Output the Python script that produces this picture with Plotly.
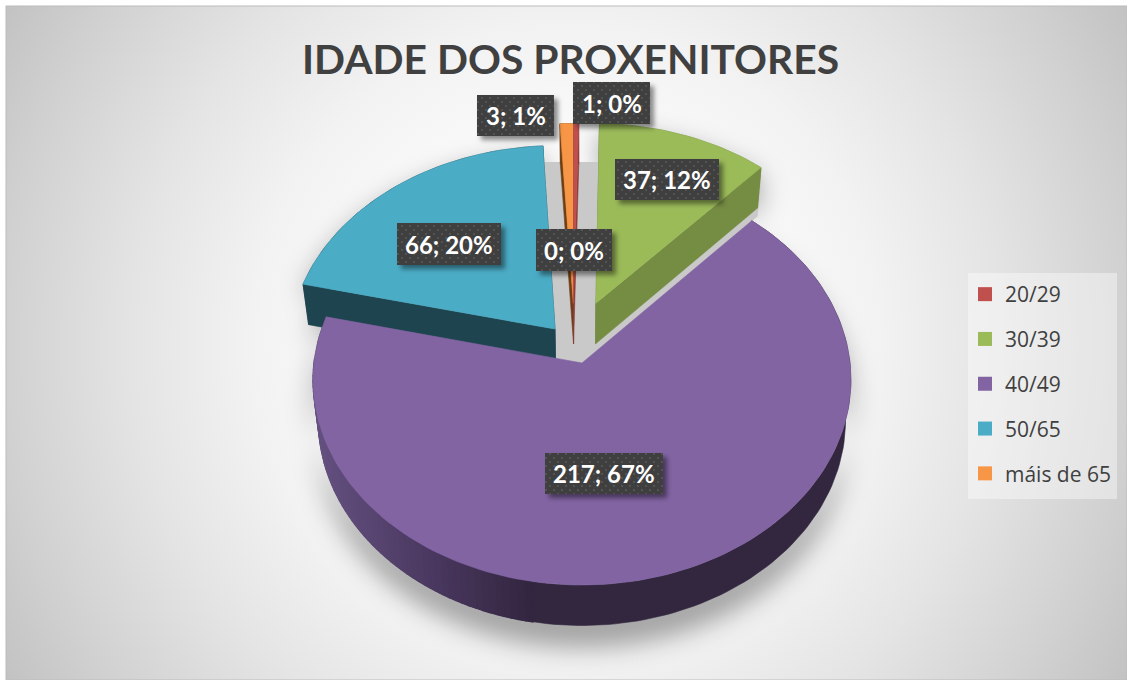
import base64, math
import plotly.graph_objects as go

# ---- data -------------------------------------------------------------
categories = ["20/29", "30/39", "40/49", "50/65", "máis de 65"]
values = [1, 37, 217, 66, 3]
value_labels = ["1; 0%", "37; 12%", "217; 67%", "66; 20%", "3; 1%"]
empty_label = "0; 0%"          # the category with no slice and no legend key

# ---- styles -----------------------------------------------------------
W, H = 1127, 680
FONT = "Lato"
LEGEND_FONT = "Open Sans"
top_colors = ["#c0504d", "#9bbb59", "#8264a3", "#4bacc6", "#f79646"]
wall_colors = ["#8c3a38", "#758c43", "#33263f", "#1e444f", "#6e3f14"]
explode_u = [-0.033, 0.053, 0.0, -0.102, -0.033]
explode_v = [0.30, 0.30, 0.0, 0.169, 0.30]
# label box (left, top, right, bottom), px
label_boxes = [(573, 82, 650, 124), (615, 159, 719, 200), (545, 453, 663, 494),
               (397, 223, 501, 265), (477, 95, 554, 136)]
empty_box = (536, 229, 612, 271)

CX, CY, RX, RY, K = 582, 363, 268, 203.8, 0.082
DEPTH, WALL_SCALE = 40.5, 0.98


def project(u, v):
    s = 1 + K * v
    return CX + RX * u / s, CY - RY * v / s


def wall(p):
    return CX + (p[0] - CX) * WALL_SCALE, p[1] + DEPTH


def arc(a0, a1, du, dv):
    n = max(3, int((a1 - a0) / 1.5))
    pts = []
    for i in range(n + 1):
        a = math.radians(a0 + (a1 - a0) * i / n)
        pts.append(project(du + math.sin(a), dv + math.cos(a)))
    return pts


def poly(fig, pts, color, stroke=0.6):
    xs = [p[0] for p in pts] + [pts[0][0]]
    ys = [p[1] for p in pts] + [pts[0][1]]
    fig.add_trace(go.Scatter(x=xs, y=ys, mode="lines", fill="toself", fillcolor=color,
                             line=dict(color=color, width=stroke), hoverinfo="skip",
                             showlegend=False))


def mix(c0, c1, t):
    a = [int(c0[i:i + 2], 16) for i in (1, 3, 5)]
    b = [int(c1[i:i + 2], 16) for i in (1, 3, 5)]
    return "#%02x%02x%02x" % tuple(round(x + (y - x) * t) for x, y in zip(a, b))


def purple_wall(x):
    if x < 430:
        return mix("#64507f", "#4a3860", max(0, (x - 317) / 113))
    return mix("#4a3860", "#33263f", (x - 430) / 100)


# slice angles come from the values, clockwise from 12 o'clock
total = sum(values)
angles = [0]
for v in values:
    angles.append(angles[-1] + v / total * 360)

slices = []
for i in range(len(values)):
    du, dv = explode_u[i], explode_v[i]
    a_pts = arc(angles[i], angles[i + 1], du, dv)
    slices.append((a_pts, project(du, dv)))


def path_d(pts):
    return "M" + " L".join(f"{x:.1f},{y:.1f}" for x, y in pts) + " Z"


# ---- background picture: gradient and soft shadows -----------------------
shadow_paths = ""
for i in (1, 2, 3):
    a_pts, apex = slices[i]
    body = a_pts + [wall(p) for p in reversed(a_pts)]
    dy = 22 if i == 2 else 10
    shadow_paths += f'<path transform="translate(0,{dy})" d="{path_d(body + [apex])}" fill="#000" fill-opacity="0.34"/>'

bg_svg = f'''<svg xmlns="http://www.w3.org/2000/svg" width="{W}" height="{H}" viewBox="0 0 {W} {H}">
<defs>
<radialGradient id="g" gradientUnits="userSpaceOnUse" cx="0" cy="0" r="1"
 gradientTransform="translate(566 343) scale(790 800)">
<stop offset="0" stop-color="#ffffff"/><stop offset="0.2" stop-color="#fdfdfd"/>
<stop offset="0.4" stop-color="#f2f2f2"/><stop offset="0.55" stop-color="#e4e4e4"/>
<stop offset="0.72" stop-color="#d0d0d0"/><stop offset="0.82" stop-color="#c3c3c3"/>
<stop offset="1" stop-color="#bbbbbb"/></radialGradient>
<filter id="b" x="-20%" y="-20%" width="140%" height="140%"><feGaussianBlur stdDeviation="13"/></filter>
<clipPath id="c"><rect x="6" y="7" width="{W - 6}" height="{H - 7}"/></clipPath>
</defs>
<rect width="{W}" height="{H}" fill="#ffffff"/>
<rect x="6" y="6" width="{W - 6}" height="{H - 6}" fill="url(#g)" stroke="#bcbcbc" stroke-width="1"/>
<g filter="url(#b)" clip-path="url(#c)">{shadow_paths}</g>
</svg>'''

# ---- label boxes with their dotted fill and shadow -----------------------
all_boxes = label_boxes + [empty_box]
box_marks = ""
for (l, t, r, b) in all_boxes:
    box_marks += (f'<rect x="{l + 4}" y="{t + 4}" width="{r - l}" height="{b - t}" fill="#000" '
                  f'fill-opacity="0.45" filter="url(#s)"/>')
    box_marks += f'<rect x="{l}" y="{t}" width="{r - l}" height="{b - t}" fill="url(#d)"/>'
box_svg = f'''<svg xmlns="http://www.w3.org/2000/svg" width="{W}" height="{H}" viewBox="0 0 {W} {H}">
<defs>
<filter id="s" x="-20%" y="-30%" width="140%" height="160%"><feGaussianBlur stdDeviation="2.5"/></filter>
<pattern id="d" width="8" height="8" patternUnits="userSpaceOnUse">
<rect width="8" height="8" fill="#3f3f3f"/>
<circle cx="2" cy="2" r="0.9" fill="#5c5c5c"/><circle cx="6" cy="6" r="0.9" fill="#5c5c5c"/>
</pattern></defs>{box_marks}</svg>'''


def data_uri(svg):
    return "data:image/svg+xml;base64," + base64.b64encode(svg.encode()).decode()


# ---- figure --------------------------------------------------------------
fig = go.Figure()

# back slivers first, then teal, green and the large front slice
for i in (4, 0, 3, 1, 2):
    a_pts, apex = slices[i]
    color, wcolor = top_colors[i], wall_colors[i]
    if i == 2:
        poly(fig, a_pts + [wall(p) for p in reversed(a_pts)], wcolor)
        for p, q in zip(a_pts[:-1], a_pts[1:]):
            mid = (p[0] + q[0]) / 2
            if mid < 530 and p[1] > CY:
                poly(fig, [p, q, wall(q), wall(p)], purple_wall(mid), stroke=1.4)
    else:
        if i == 1:  # thin grey shadow cast under the green wall, seen above the front slice
            edge = [apex, a_pts[-1], wall(a_pts[-1]), wall(apex)]
            poly(fig, [(x, y + 8) for x, y in edge], "#c9c9c9")
        poly(fig, a_pts + [wall(p) for p in reversed(a_pts)], wcolor)
        poly(fig, [apex, a_pts[0], wall(a_pts[0]), wall(apex)], wcolor)
        poly(fig, [apex, a_pts[-1], wall(a_pts[-1]), wall(apex)], wcolor)
    poly(fig, [apex] + a_pts, color)

# legend keys
for name, color in zip(categories, top_colors):
    fig.add_trace(go.Scatter(x=[None], y=[None], mode="markers", name=name, legendgroup=name,
                             marker=dict(symbol="square", size=14, color=color)))

annotations = []
for text, (l, t, r, b) in zip(value_labels + [empty_label], all_boxes):
    annotations.append(dict(x=(l + r) / 2, y=(t + b) / 2, xref="x", yref="y", text=text,
                            showarrow=False, xanchor="center", yanchor="middle",
                            font=dict(family=FONT, size=24, color="#ffffff", weight=700)))
annotations.append(dict(x=570.5, y=58, xref="x", yref="y", text="IDADE DOS PROXENITORES",
                        showarrow=False, xanchor="center", yanchor="middle",
                        font=dict(family=FONT, size=40.8, color="#404040", weight=700)))

fig.update_layout(
    width=W, height=H, autosize=False,
    margin=dict(l=0, r=0, t=0, b=0),
    paper_bgcolor="#ffffff", plot_bgcolor="rgba(0,0,0,0)",
    xaxis=dict(range=[0, W], visible=False, fixedrange=True),
    yaxis=dict(range=[H, 0], visible=False, fixedrange=True),
    annotations=annotations,
    images=[
        dict(source=data_uri(bg_svg), xref="paper", yref="paper", x=0, y=1, sizex=1, sizey=1,
             xanchor="left", yanchor="top", sizing="stretch", layer="below"),
        dict(source=data_uri(box_svg), xref="paper", yref="paper", x=0, y=1, sizex=1, sizey=1,
             xanchor="left", yanchor="top", sizing="stretch", layer="above"),
    ],
    shapes=[
        dict(type="rect", xref="x", yref="y", x0=540, x1=600, y0=162, y1=366, layer="below",
             fillcolor="#c9c9c9", line_width=0),
        dict(type="rect", xref="x", yref="y", x0=968, x1=1117, y0=273, y1=499, layer="below",
             fillcolor="rgba(255,255,255,0.4)", line_width=0),
    ],
    showlegend=True,
    legend=dict(x=965 / W, y=1 - 274 / H, xanchor="left", yanchor="top", bgcolor="rgba(0,0,0,0)",
                font=dict(family=LEGEND_FONT, size=21, color="#404040"), tracegroupgap=14.5,
                traceorder="grouped", itemclick=False, itemdoubleclick=False),
)

fig.write_html("out.html", config={"displayModeBar": False},
               post_script="document.body.style.margin='0';")
